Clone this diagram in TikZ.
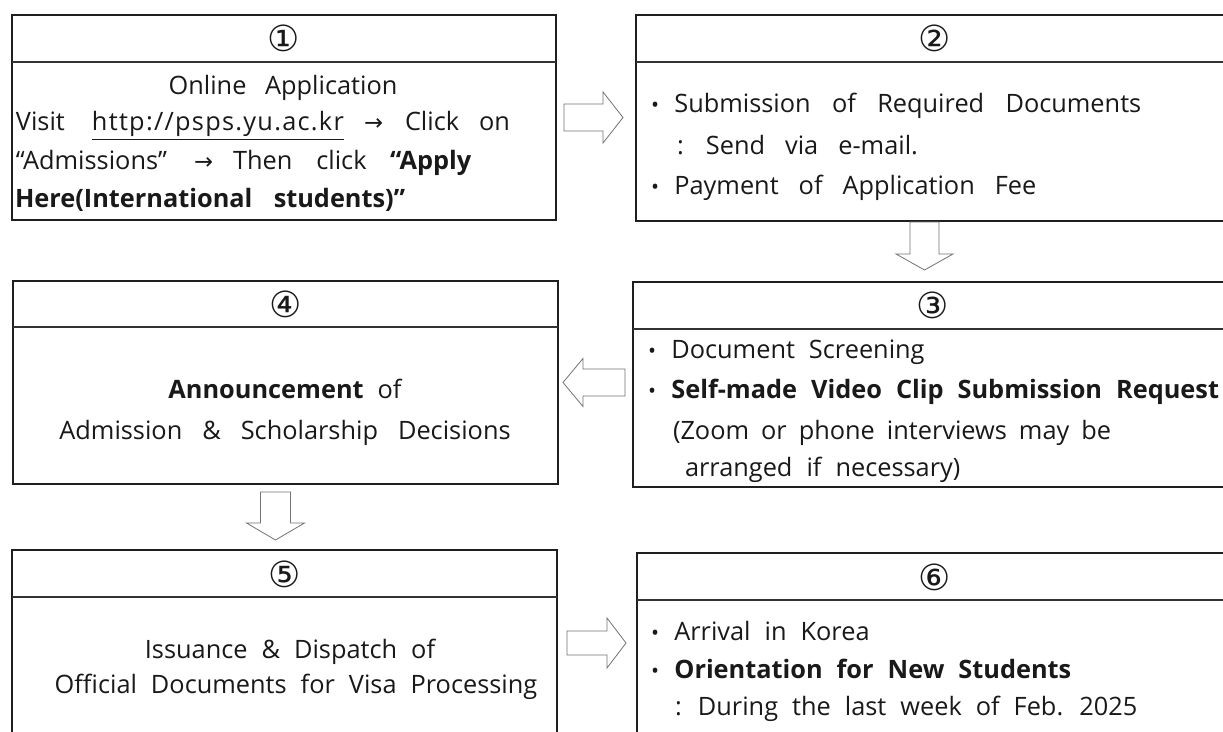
\documentclass[tikz,border=0pt]{standalone}
\usepackage{fontspec}
\setmainfont{Open Sans}
\newfontfamily\symf{DejaVu Sans}
\usetikzlibrary{calc}
\newcommand\bulmark{\makebox[17.5pt][l]{\fontsize{16}{16}\selectfont •}}
\newcommand\arrmark{{\symf\fontsize{17}{17}\selectfont →}}
\newcommand\wsp[1]{\spaceskip=#1\relax}
\tikzset{
  box/.style={draw=black!88, line width=1.4pt, outer sep=0pt, inner sep=0pt, anchor=north west},
  hline/.style={draw=black!80, line width=0.9pt},
  txt/.style={inner sep=0pt, outer sep=0pt, font={\fontsize{19}{23}\selectfont\spaceskip=10.5pt\relax}, text=black!90},
  num/.style={inner sep=0pt, outer sep=0pt, font=\symf\fontsize{27}{27}\selectfont, text=black!90},
  arrowline/.style={draw=black!55, line width=0.6pt, fill=white},
  pics/blockarr/.style n args={4}{code={
    \draw[arrowline] (0,-#1) -- (#2,-#1) -- (#2,-#3) -- ({#2+#4},0) -- (#2,#3) -- (#2,#1) -- (0,#1) -- cycle;}}
}
\begin{document}
\begin{tikzpicture}[x=0.75pt, y=-0.75pt]
\useasboundingbox (0,0) rectangle (1223,731);
\clip (0,0) rectangle (1223,731);
\fill[white] (0,0) rectangle (1223,731);

% boxes
\node[box, minimum width=408pt, minimum height=153.75pt] (b1) at (12,15) {};
\node[box, minimum width=447.75pt, minimum height=154.5pt] (b2) at (636,15) {};
\node[box, minimum width=408.75pt, minimum height=152.25pt] (b4) at (13,281) {};
\node[box, minimum width=450pt, minimum height=153.75pt] (b3) at (633,282) {};
\node[box, minimum width=408.75pt, minimum height=157.5pt] (b5) at (12,550) {};
\node[box, minimum width=447pt, minimum height=155.25pt] (b6) at (637,553) {};

% header lines
\foreach \b/\h in {b1/47, b2/47, b4/46, b3/47, b5/47, b6/47}{
  \draw[hline] ($(\b.north west)+(0,\h)$) -- ($(\b.north east)+(0,\h)$);
}

% numbers
\node[num] (n1) at ($(b1.north)+(0,23)$) {①};
\node[num] (n2) at ($(b2.north)+(0,23)$) {②};
\node[num] (n3) at ($(b3.north)+(0,23)$) {③};
\node[num] (n4) at ($(b4.north)+(0,23)$) {④};
\node[num] (n5) at ($(b5.north)+(0,24)$) {⑤};
\node[num] (n6) at ($(b6.north)+(0,24)$) {⑥};

% box 1
\node[txt, anchor=base] (t1a) at (283,95) {\wsp{14pt}Online Application};
\node[txt, anchor=base west] (t1b) at (16,131) {\makebox[57pt][l]{Visit}\makebox[204pt][l]{\underline{\addfontfeature{LetterSpace=5}http://psps.yu.ac.kr}}\makebox[30.75pt][l]{\arrmark}\wsp{15pt}Click on};
\node[txt, anchor=base west] (t1c) at (16,170) {\makebox[133.5pt][l]{“Admissions”}\makebox[29.25pt][l]{\arrmark}\makebox[117.75pt][l]{\wsp{18pt}Then click}\textbf{“Apply}};
\node[txt, anchor=base west] (t1d) at (15,207) {\textbf{\wsp{16pt}Here(International students)”}};

% box 2
\node[txt, anchor=base west] (t2a) at (651,113) {\wsp{16pt}\bulmark Submission of Required Documents};
\node[txt, anchor=base west] (t2b) at (677,155) {\wsp{15pt}: Send via e-mail.};
\node[txt, anchor=base west] (t2c) at (651,195) {\wsp{15pt}\bulmark Payment of Application Fee};

% box 3
\node[txt, anchor=base west] (t3a) at (648,358) {\bulmark Document Screening};
\node[txt, anchor=base west] (t3b) at (648,398) {\bulmark \textbf{Self-made Video Clip Submission Request}};
\node[txt, anchor=base west] (t3c) at (673,439) {\wsp{9pt}(Zoom or phone interviews may be};
\node[txt, anchor=base west] (t3d) at (685,476) {arranged if necessary)};

% box 4
\node[txt, anchor=base] (t4a) at (285,398) {\textbf{Announcement} of};
\node[txt, anchor=base] (t4b) at (285,439) {\wsp{15pt}Admission \& Scholarship Decisions};

% box 5
\node[txt, anchor=base] (t5a) at (290,658) {Issuance \& Dispatch of};
\node[txt, anchor=base] (t5b) at (296,693) {Official Documents for Visa Processing};

% box 6
\node[txt, anchor=base west] (t6a) at (651,640) {\bulmark Arrival in Korea};
\node[txt, anchor=base west] (t6b) at (651,678) {\bulmark \textbf{Orientation for New Students}};
\node[txt, anchor=base west] (t6c) at (675,715) {: During the last week of Feb. 2025};

% block arrows
\pic at ($(b1.east)+(8,0)$) {blockarr={13.5}{39}{25.5}{20}};
\pic[rotate=-90] at ($(b2.south)+(-10,1)$) {blockarr={14.5}{32}{28.5}{16}};
\pic[rotate=180] at ($(b3.west)+(-8,-2)$) {blockarr={13.5}{42}{24}{20}};
\pic[rotate=-90] at ($(b4.south)+(-10,8)$) {blockarr={15}{31}{29}{17}};
\pic at ($(b5.east)+(10,-12)$) {blockarr={12}{40}{25}{19}};
\end{tikzpicture}
\end{document}
